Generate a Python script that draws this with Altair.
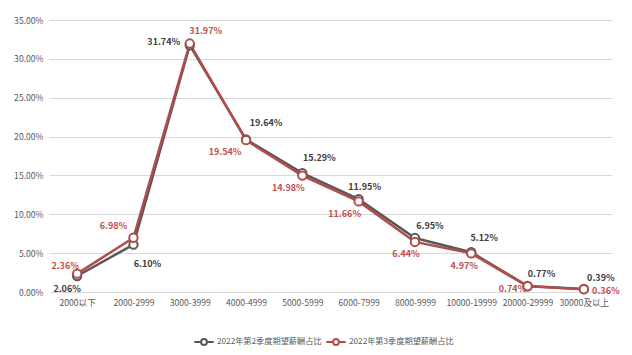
import altair as alt
import pandas as pd

categories = ["2000以下", "2000-2999", "3000-3999", "4000-4999", "5000-5999",
              "6000-7999", "8000-9999", "10000-19999", "20000-29999", "30000及以上"]
series_names = ["2022年第2季度期望薪酬占比", "2022年第3季度期望薪酬占比"]
q2_values = [2.06, 6.10, 31.74, 19.64, 15.29, 11.95, 6.95, 5.12, 0.77, 0.39]
q3_values = [2.36, 6.98, 31.97, 19.54, 14.98, 11.66, 6.44, 4.97, 0.74, 0.36]
y_ticks = [0, 0.05, 0.10, 0.15, 0.20, 0.25, 0.30, 0.35]

# label offsets (pixels) for each data label, styling only
q2_label_dx = [-10, 14, -26, 20, 17, 6, 15, 13, 14, 17]
q2_label_dy = [13, 19, -3, -16, -15, -12, -12, -14, -12, -11]
q3_label_dx = [-12, -20, 16, -21, -14, -14, -9, -7, -15, 22]
q3_label_dy = [-8, -12, -13, 12, 12, 13, 12, 13, 3, 2]

colors = ["#595959", "#b14c4a"]
label_colors = ["#404040", "#c0504d"]

rows = []
for s, vals in [(series_names[0], q2_values), (series_names[1], q3_values)]:
    for i, (c, v) in enumerate(zip(categories, vals)):
        rows.append({"cat": c, "series": s, "value": v / 100.0, "idx": i})
df = pd.DataFrame(rows)

font = "Noto Sans CJK SC"

x_enc = alt.X("cat:N", sort=categories, title=None,
              axis=alt.Axis(labelAngle=0, labelFontSize=8.6, labelColor="#595959",
                            domain=False, ticks=False, labelPadding=6, labelFont=font))
y_enc = alt.Y("value:Q", title=None,
              scale=alt.Scale(domain=[0, 0.35]),
              axis=alt.Axis(format=".2%", values=y_ticks,
                            labelFontSize=8.6, labelColor="#595959", domain=False, ticks=False,
                            gridColor="#d9d9d9", gridWidth=1, labelPadding=6, labelFont=font))
color_enc = alt.Color("series:N", sort=series_names,
                      scale=alt.Scale(domain=series_names, range=colors),
                      legend=alt.Legend(title=None, orient="none", direction="horizontal",
                                        legendX=144, legendY=311,
                                        symbolType="M-1,0 L-0.3,0 M0.3,0 L1,0 M-0.3,0 A0.3,0.3 0 1,0 0.3,0 A0.3,0.3 0 1,0 -0.3,0",
                                        symbolSize=380, symbolStrokeWidth=2, symbolFillColor="white",
                                        labelFontSize=8.2, labelColor="#595959", labelFont=font,
                                        columnPadding=0, labelOffset=2))

base = alt.Chart(df)

lines = base.mark_line(strokeWidth=2.5).encode(x=x_enc, y=y_enc, color=color_enc)
points = base.mark_point(filled=True, fill="white", size=70, strokeWidth=2, opacity=1).encode(
    x=x_enc, y=y_enc,
    stroke=alt.Stroke("series:N", scale=alt.Scale(domain=series_names, range=colors), legend=None))

label_layers = []
for s_i, (s, dxs, dys) in enumerate([(series_names[0], q2_label_dx, q2_label_dy),
                                      (series_names[1], q3_label_dx, q3_label_dy)]):
    for i in range(len(categories)):
        label_layers.append(
            base.transform_filter(
                (alt.datum.series == s) & (alt.datum.idx == i)
            ).mark_text(fontSize=9, fontWeight="bold", font=font, dx=dxs[i], dy=dys[i],
                        color=label_colors[s_i]).encode(
                x=x_enc, y=y_enc, text=alt.Text("value:Q", format=".2%"))
        )

chart = alt.layer(lines, points, *label_layers).resolve_scale(color="independent").properties(
    width=563, height=272,
    autosize=alt.AutoSizeParams(type="none"),
    padding={"left": 49, "top": 20, "right": 20, "bottom": 63},
    background="white"
).configure_view(stroke=None)

chart.save("out.html", embed_options={"renderer": "svg", "actions": False})
